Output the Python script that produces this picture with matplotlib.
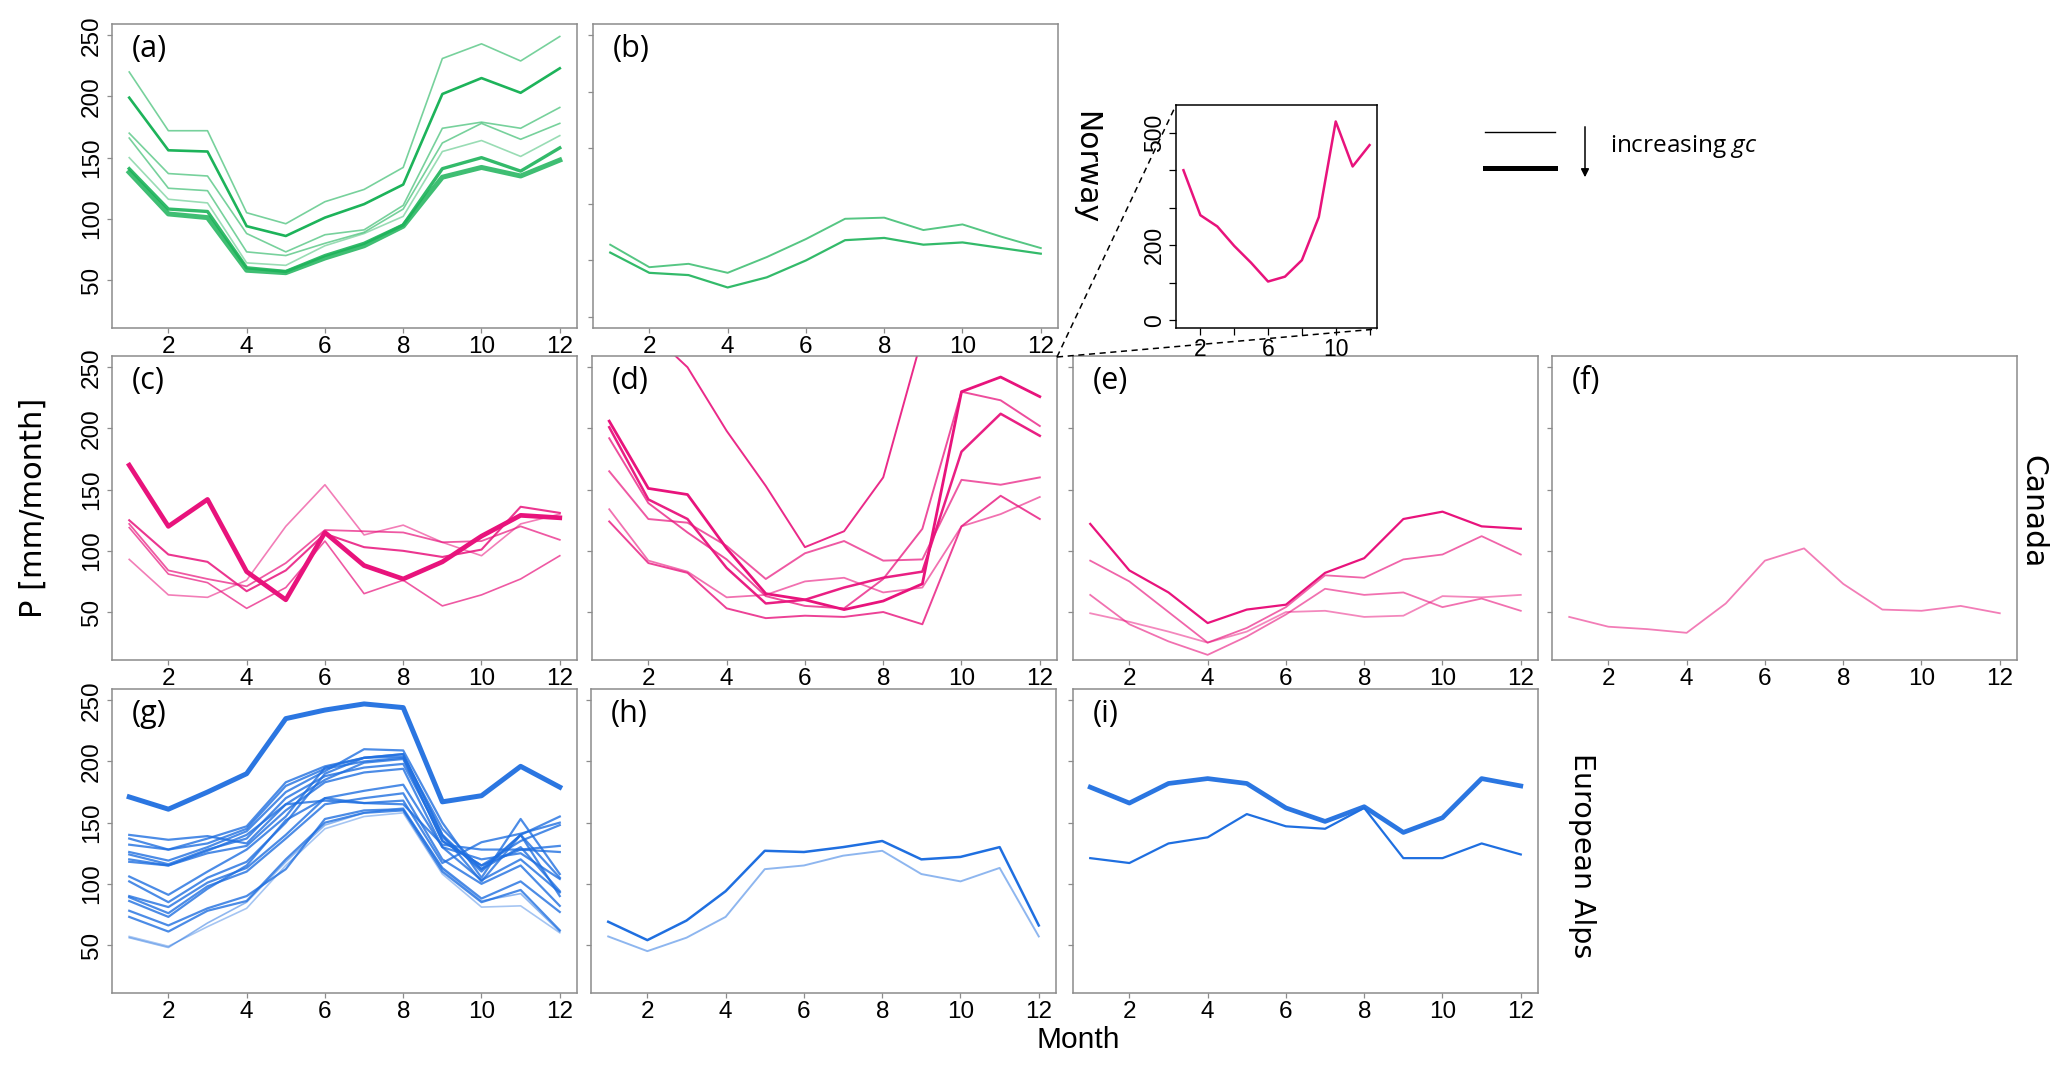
import numpy as np
import matplotlib.pyplot as plt

plt.rcParams['font.family'] = 'Liberation Sans'
plt.rcParams['mathtext.fontset'] = 'custom'
plt.rcParams['mathtext.rm'] = 'Open Sans'
plt.rcParams['mathtext.it'] = 'Open Sans:italic'

months = np.arange(1, 13)

# Norway (green)
panel_a = [
    [220, 172, 172, 105, 96, 114, 124, 142, 231, 243, 229, 249],
    [199, 156, 155, 94, 86, 101, 112, 128, 202, 215, 203, 223],
    [170, 137, 135, 88, 73, 87, 91, 111, 174, 179, 174, 191],
    [166, 125, 123, 73, 70, 80, 89, 108, 162, 178, 165, 178],
    [150, 116, 113, 64, 62, 78, 88, 102, 155, 164, 151, 168],
    [141, 108, 106, 60, 57, 70, 80, 95, 141, 150, 139, 158],
    [138, 104, 101, 58, 56, 68, 78, 94, 134, 142, 135, 148],
]
panel_b = [
    [64, 44, 47, 39, 53, 69, 87, 88, 77, 82, 71, 61],
    [57, 39, 37, 26, 35, 50, 68, 70, 64, 66, 61, 56],
]

# Canada (pink)
panel_c = [
    [93, 64, 62, 76, 120, 154, 113, 121, 107, 96, 122, 130],
    [119, 81, 74, 53, 70, 108, 65, 76, 55, 64, 77, 96],
    [122, 84, 77, 71, 90, 117, 116, 115, 107, 108, 120, 109],
    [125, 97, 91, 67, 84, 114, 103, 100, 95, 101, 136, 131],
    [170, 120, 142, 83, 60, 115, 88, 77, 91, 112, 129, 127],
]
panel_d = [
    [134, 92, 83, 62, 64, 75, 78, 66, 70, 120, 130, 144],
    [124, 90, 82, 53, 45, 47, 46, 50, 40, 120, 145, 126],
    [165, 126, 123, 104, 77, 98, 108, 92, 93, 158, 154, 160],
    [192, 139, 115, 93, 63, 55, 53, 77, 118, 230, 223, 202],
    [400, 280, 250, 198, 153, 103, 116, 160, 275, 530, 410, 467],
    [201, 142, 126, 86, 57, 60, 70, 78, 83, 181, 212, 194],
    [206, 151, 146, 102, 65, 60, 52, 59, 73, 230, 242, 226],
]
norway_inset = [400, 280, 250, 198, 153, 103, 116, 160, 275, 530, 410, 467]
panel_e = [
    [49, 42, 34, 25, 34, 50, 51, 46, 47, 63, 62, 64],
    [64, 40, 26, 15, 30, 48, 69, 64, 66, 54, 61, 51],
    [92, 75, 50, 25, 37, 54, 80, 78, 93, 97, 112, 97],
    [122, 84, 66, 41, 52, 56, 82, 94, 126, 132, 120, 118],
]
panel_f = [
    [46, 38, 36, 33, 57, 92, 102, 73, 52, 51, 55, 49],
]

# European Alps (blue)
panel_g = [
    [57, 49, 65, 80, 115, 145, 155, 158, 108, 81, 82, 60],
    [56, 48, 68, 85, 118, 148, 158, 162, 112, 86, 92, 61],
    [118, 115, 127, 140, 165, 185, 199, 202, 135, 115, 128, 126],
    [120, 115, 125, 131, 160, 183, 191, 194, 130, 120, 125, 104],
    [132, 128, 133, 145, 180, 194, 200, 203, 135, 115, 135, 148],
    [73, 61, 78, 86, 120, 150, 158, 160, 110, 85, 95, 62],
    [78, 66, 80, 90, 112, 153, 160, 161, 113, 88, 102, 77],
    [124, 116, 128, 137, 170, 188, 195, 198, 138, 112, 130, 94],
    [89, 76, 98, 110, 137, 165, 170, 174, 120, 100, 115, 82],
    [90, 81, 101, 113, 140, 170, 176, 181, 130, 103, 120, 93],
    [86, 73, 96, 115, 152, 170, 166, 168, 117, 134, 141, 150],
    [102, 85, 105, 118, 150, 190, 203, 206, 140, 102, 140, 90],
    [106, 91, 110, 128, 155, 195, 203, 204, 145, 112, 140, 105],
    [126, 119, 130, 143, 175, 192, 210, 209, 150, 105, 153, 108],
    [137, 128, 137, 147, 183, 196, 203, 206, 140, 110, 140, 155],
    [140, 136, 139, 133, 165, 168, 166, 165, 132, 128, 128, 131],
    [171, 161, 175, 190, 235, 242, 247, 244, 167, 172, 196, 179],
]
panel_h = [
    [57, 45, 56, 73, 112, 115, 123, 127, 108, 102, 113, 57],
    [69, 54, 70, 94, 127, 126, 130, 135, 120, 122, 130, 66],
]
panel_i = [
    [121, 117, 133, 138, 157, 147, 145, 162, 121, 121, 133, 124],
    [179, 166, 182, 186, 182, 162, 151, 163, 142, 154, 186, 180],
]

GREEN = '#1db35a'
PINK = '#e8137c'
BLUE = '#1f6fe0'

W, H = 2067, 1069
fig = plt.figure(figsize=(W / 100, H / 100), dpi=100)


def rect(l, t, w=465, h=304):
    return [l / W, 1 - (t + h) / H, w / W, h / H]


def make_panel(left, top, label, lines, color, alphas, widths,
               ylim=(20, 250), yticks=(50, 100, 150, 200, 250), ylabels=False):
    ax = fig.add_axes(rect(left, top))
    for vals, a, lw in zip(lines, alphas, widths):
        ax.plot(months, vals, color=color, alpha=a, lw=lw, solid_joinstyle='round')
    ax.set_xlim(1 - 0.44, 12 + 0.44)
    pad = (ylim[1] - ylim[0]) * 0.04
    ax.set_ylim(ylim[0] - pad, ylim[1] + pad)
    ax.set_xticks([2, 4, 6, 8, 10, 12])
    ax.set_yticks(list(yticks))
    if ylabels:
        ax.set_yticklabels([str(t) for t in yticks], rotation=90, va='center')
    else:
        ax.set_yticklabels([])
    for sp in ax.spines.values():
        sp.set_color('#8c8c8c')
        sp.set_linewidth(1.1)
    ax.tick_params(length=3.6, width=0.9, color='#8c8c8c', labelsize=17.5, pad=2)
    ax.tick_params(axis='y', pad=3)
    ax.text(20 / 465, 1 - 10 / 304, label, transform=ax.transAxes, ha='left', va='top',
            family='Open Sans', fontsize=22)
    return ax


make_panel(112, 24, '(a)', panel_a, GREEN,
           [0.6, 1.0, 0.6, 0.6, 0.45, 0.9, 0.85], [1.2, 1.9, 1.2, 1.2, 1.2, 2.4, 3.6], ylabels=True)
make_panel(593, 24, '(b)', panel_b, GREEN, [0.75, 0.9], [1.4, 1.6],
           ylim=(0, 250), yticks=(0, 50, 100, 150, 200, 250))

make_panel(112, 356, '(c)', panel_c, PINK,
           [0.55, 0.7, 0.7, 0.85, 1.0], [1.2, 1.2, 1.3, 1.5, 3.4], ylabels=True)
make_panel(592, 356, '(d)', panel_d, PINK,
           [0.6, 0.8, 0.7, 0.75, 0.9, 0.95, 1.0], [1.3, 1.4, 1.4, 1.4, 1.4, 1.8, 2.0])
make_panel(1073, 356, '(e)', panel_e, PINK, [0.5, 0.6, 0.65, 1.0], [1.3, 1.3, 1.3, 1.6])
make_panel(1552, 356, '(f)', panel_f, PINK, [0.55], [1.3])

make_panel(112, 689, '(g)', panel_g, BLUE,
           [0.4, 0.5] + [0.8] * 14 + [0.95],
           [1.2, 1.2] + [1.6] * 14 + [3.6], ylabels=True)
make_panel(591, 689, '(h)', panel_h, BLUE, [0.5, 1.0], [1.4, 1.8])
make_panel(1073, 689, '(i)', panel_i, BLUE, [1.0, 0.95], [1.6, 3.4])

# inset: full range of the Norway curve
axin = fig.add_axes(rect(1176, 105, 201, 223))
axin.plot(months, norway_inset, color=PINK, lw=1.8)
axin.set_xlim(1 - 0.44, 12 + 0.44)
axin.set_ylim(-21, 574)
axin.set_xticks([2, 4, 6, 8, 10, 12])
axin.set_xticklabels(['2', '', '6', '', '10', ''])
axin.set_yticks([0, 100, 200, 300, 400, 500])
axin.set_yticklabels(['0', '', '200', '', '', '500'], rotation=90, va='center')
axin.tick_params(length=5, width=0.9, labelsize=16.5, pad=2)
for sp in axin.spines.values():
    sp.set_linewidth(1.1)

# overlay in pixel coordinates for annotations
ov = fig.add_axes([0, 0, 1, 1], facecolor='none')
ov.set_xlim(0, W)
ov.set_ylim(H, 0)
ov.axis('off')

ov.plot([1057, 1176], [357, 105], color='black', ls=(0, (4, 3)), lw=1.1)
ov.plot([1057, 1377], [357, 329], color='black', ls=(0, (4, 3)), lw=1.1)

ov.plot([1485, 1555], [132, 132], color='black', lw=1.0)
ov.plot([1485, 1555], [168, 168], color='black', lw=3.6)
ov.annotate('', xy=(1585, 180), xytext=(1585, 124),
            arrowprops=dict(arrowstyle='-|>', lw=1.1, color='black', mutation_scale=12))
ov.text(1610, 146, r'increasing $\mathit{gc}$', family='Open Sans', fontsize=17.5,
        ha='left', va='center')

ov.text(1086, 168, 'Norway', family='DejaVu Sans', fontsize=21.5, rotation=270,
        ha='center', va='center')
ov.text(2033, 512, 'Canada', family='DejaVu Sans', fontsize=21.5, rotation=270,
        ha='center', va='center')
ov.text(1582, 856, 'European Alps', family='DejaVu Sans', fontsize=20.5, rotation=270,
        ha='center', va='center')
ov.text(33, 508, 'P [mm/month]', family='DejaVu Sans', fontsize=22, rotation=90,
        ha='center', va='center')
ov.text(1078, 1040, 'Month', fontsize=21.5, ha='center', va='center')

fig.savefig('out.png', dpi=100)
